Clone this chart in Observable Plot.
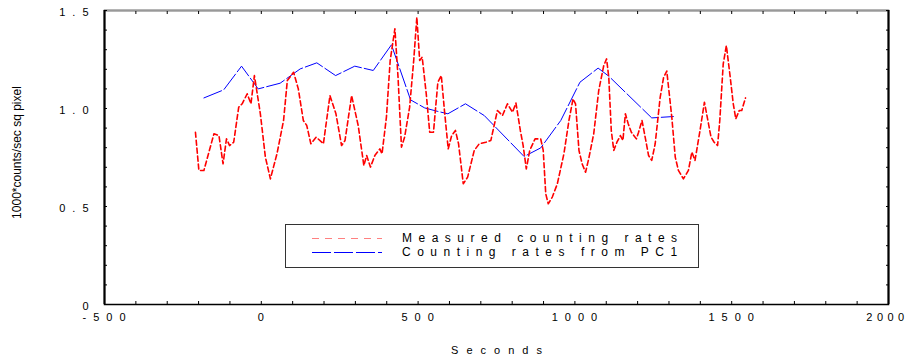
<!DOCTYPE html>
<html>
<head>
<meta charset="utf-8">
<script src="https://cdn.jsdelivr.net/npm/d3@7"></script>
<script src="https://cdn.jsdelivr.net/npm/@observablehq/plot@0.6"></script>
<style>
  html, body { margin: 0; padding: 0; background: #fff; }
  #wrap { position: relative; width: 909px; height: 362px; font-family: "Liberation Sans", Arial, sans-serif; }
  svg { font-family: "Liberation Sans", Arial, sans-serif; }
  g[aria-label="x-axis tick label"] text, g[aria-label="y-axis tick label"] text { letter-spacing: 7px; }
  #legend { position: absolute; left: 285px; top: 224px; width: 414px; height: 44px; border: 1px solid #333; background: #fff; box-sizing: border-box; }
  #legend .lbl { position: absolute; left: 116px; font-size: 12px; letter-spacing: 6.5px; white-space: nowrap; color: #000; line-height: 14px; }
</style>
</head>
<body>
<div id="wrap">
  <div id="chart"></div>
  <div id="legend">
    <svg width="110" height="44" style="position:absolute;left:0;top:0">
      <line x1="26" x2="96" y1="13.5" y2="13.5" stroke="#ff8080" stroke-width="1.2" stroke-dasharray="7,6"></line>
      <line x1="26" x2="96" y1="27.5" y2="27.5" stroke="#0000ff" stroke-width="1" stroke-dasharray="19,3"></line>
    </svg>
    <div class="lbl" style="top:6px">Measured counting rates</div>
    <div class="lbl" style="top:20px">Counting rates from PC1</div>
  </div>
</div>
<script>
// Measured counting rates (red dashed)
const measuredT = [-210,-199,-183,-151,-135,-122,-111,-101,-88,-72,-61,-45,-33,-22,-3,13,29,50,71,83,103,118,134,145,158,175,198,219,238,256,267,288,309,327,336,348,362,378,385,399,411,426,436,447,457,473,486,496,505,513,526,537,549,563,574,584,596,607,619,629,644,658,679,695,716,732,753,769,785,801,812,826,835,845,856,873,891,899,907,915,928,944,965,981,994,1002,1013,1023,1034,1044,1060,1076,1092,1101,1108,1116,1124,1134,1145,1153,1161,1170,1180,1196,1203,1214,1224,1235,1245,1256,1272,1283,1293,1309,1320,1330,1346,1362,1373,1383,1399,1413,1424,1434,1444,1455,1462,1473,1483,1494,1505,1513,1524,1532,1544];
const measuredV = [0.879,0.684,0.684,0.871,0.862,0.718,0.845,0.811,0.828,1.007,1.024,1.075,1.024,1.168,0.973,0.752,0.641,0.769,0.939,1.143,1.185,1.100,0.939,0.913,0.820,0.854,0.820,1.066,0.973,0.811,0.837,1.066,0.913,0.709,0.760,0.701,0.760,0.794,0.769,0.956,1.245,1.407,1.160,0.803,0.854,1.007,1.245,1.466,1.245,1.262,1.075,0.879,0.879,1.134,1.168,0.990,0.794,0.862,0.888,0.820,0.616,0.650,0.786,0.820,0.828,0.837,0.990,0.964,1.024,0.981,1.028,0.888,0.811,0.692,0.786,0.845,0.845,0.786,0.565,0.514,0.548,0.616,0.769,0.939,1.049,1.024,0.786,0.718,0.675,0.743,0.871,1.092,1.219,1.253,1.160,0.888,0.786,0.828,0.862,0.837,0.973,0.922,0.879,0.845,0.879,0.939,0.854,0.760,0.735,0.820,1.058,1.160,1.191,0.956,0.752,0.684,0.641,0.684,0.778,0.735,0.888,1.032,0.939,0.854,0.828,0.811,0.939,1.228,1.321,1.177,1.024,0.947,0.990,0.990,1.054];

// Counting rates from PC1 (blue long dashes)
const pc1T = [-183,-120,-63,-10,60,124,177,237,298,357,415,476,521,563,595,651,711,838,891,955,1016,1074,1108,1245,1314];
const pc1V = [1.054,1.095,1.216,1.100,1.129,1.202,1.233,1.168,1.216,1.194,1.325,1.044,1.003,0.985,0.973,1.024,0.964,0.755,0.799,0.939,1.134,1.206,1.165,0.952,0.959];

const xTicks = [-500, 0, 500, 1000, 1500, 2000];
const xMinor = d3.range(-500, 2001, 100);
const yTicks = [0, 0.5, 1.0, 1.5];
const yLabels = ["0", "0.5", "1.0", "1.5"];
const yMinor = d3.range(0, 1.501, 0.1).map(v => +v.toFixed(2));
const xTitle = "Seconds";
const yTitle = "1000*counts/sec sq pixel";

const measured = measuredT.map((t, i) => ({t, v: measuredV[i]}));
const pc1 = pc1T.map((t, i) => ({t, v: pc1V[i]}));

const chart = Plot.plot({
  width: 909,
  height: 362,
  marginLeft: 104,
  marginRight: 21,
  marginTop: 10,
  marginBottom: 58,
  style: {fontSize: "11px", fontFamily: "Liberation Sans, Arial, sans-serif", color: "#000"},
  x: {domain: [-500, 2000]},
  y: {domain: [0, 1.5]},
  marks: [
    Plot.frame({stroke: "#000", strokeWidth: 1.5}),
    Plot.ruleY([1.5], {stroke: "#999", strokeWidth: 1.5}),
    Plot.ruleX([-500], {stroke: "#000", strokeWidth: 2}),
    Plot.ruleX([2000], {stroke: "#000", strokeWidth: 2}),
    // minor inward ticks
    Plot.axisX(xMinor, {anchor: "bottom", tickSize: -3, tickFormat: () => "", label: null}),
    Plot.axisX(xMinor, {anchor: "top", tickSize: -3, tickFormat: () => "", label: null}),
    Plot.axisY(yMinor, {anchor: "left", tickSize: -3, tickFormat: () => "", label: null}),
    Plot.axisY(yMinor, {anchor: "right", tickSize: -3, tickFormat: () => "", label: null}),
    // tick labels
    Plot.axisX(xTicks, {anchor: "bottom", tickSize: 0, tickPadding: 9, tickFormat: d => String(d), label: null, dx: 3}),
    Plot.axisY(yTicks, {anchor: "left", tickSize: 0, tickPadding: 9, tickFormat: (d, i) => yLabels[i], dy: 2, label: null}),
    // axis titles
    Plot.text([yTitle], {frameAnchor: "left", textAnchor: "middle", dx: -87, dy: -5, rotate: -90, fontSize: 12, fill: "#000"}),
    Plot.text([xTitle], {frameAnchor: "bottom", textAnchor: "middle", dy: 49, fontSize: 11, fill: "#000"}),
    Plot.line(pc1, {x: "t", y: "v", stroke: "#0000ff", strokeWidth: 1, strokeDasharray: "19,3"}),
    Plot.line(measured, {x: "t", y: "v", stroke: "#ff0000", strokeWidth: 1.6, strokeDasharray: "5,3"})
  ]
});
document.getElementById("chart").appendChild(chart);

// letter-spaced title, and squeeze the end labels in as the original renderer does
d3.select(chart).selectAll("text").filter(function() { return this.textContent === xTitle; })
  .style("letter-spacing", "8px").attr("dx", 4);
const xl = d3.select(chart).selectAll('g[aria-label="x-axis tick label"] text').nodes();
if (xl.length) {
  d3.select(xl[0]).attr("dx", -20).style("letter-spacing", "5.5px");
  d3.select(xl[xl.length - 1]).attr("dx", -4).style("letter-spacing", "4.5px");
}
</script>
</body>
</html>
